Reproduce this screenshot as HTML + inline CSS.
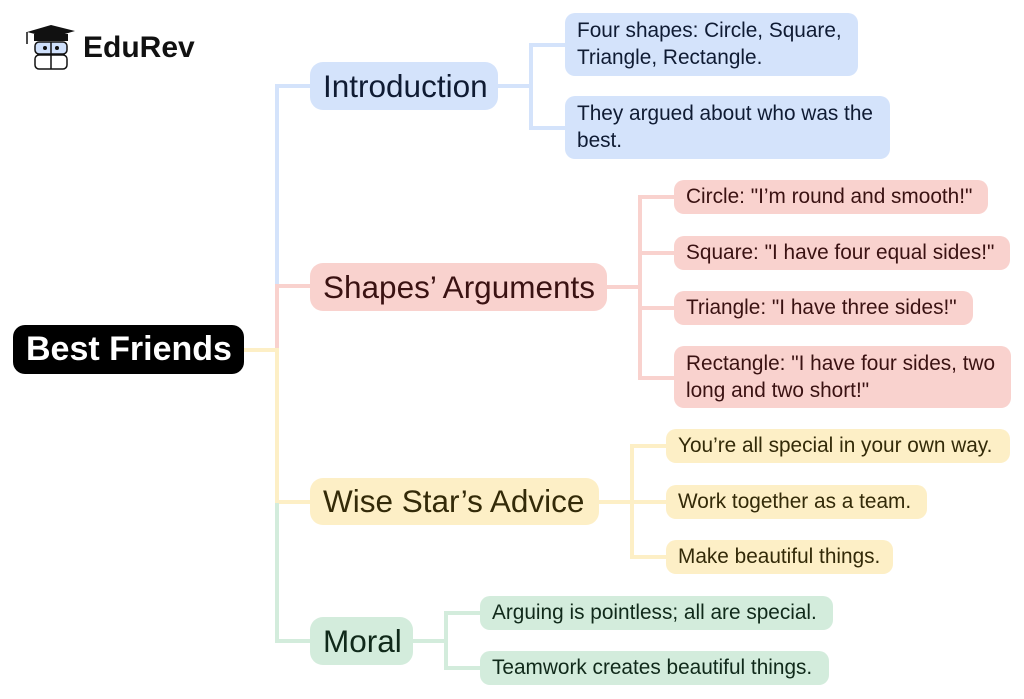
<!DOCTYPE html>
<html><head><meta charset="utf-8"><style>
body{margin:0;width:1024px;height:699px;background:#fff;position:relative;overflow:hidden;font-family:"Liberation Sans",Arial,sans-serif}
.b{position:absolute;box-sizing:border-box;border-radius:10px;font-size:20.8px;line-height:27px;padding:4px 12px;white-space:nowrap}
.m{position:absolute;box-sizing:border-box;border-radius:13px;font-size:31.5px;padding:0 13px;display:flex;align-items:center;white-space:nowrap}
.l{position:absolute}
.bl{background:#d4e3fb;color:#0f1b33}.pk{background:#f9d2ce;color:#3a1212}.ye{background:#fdefc6;color:#332a08}.gr{background:#d3ecdc;color:#10291a}
.lb{background:#d4e3fb}.lp{background:#f9d2ce}.ly{background:#fdefc6}.lg{background:#d3ecdc}
</style></head><body>
<svg style="position:absolute;left:24px;top:24px" width="54" height="48" viewBox="0 0 54 48">
<polygon points="3,8 27,1 51,7 27,14" fill="#111"/>
<rect x="10" y="10" width="34" height="7" fill="#111"/>
<line x1="3" y1="8" x2="3" y2="20" stroke="#111" stroke-width="1.5"/>
<rect x="11" y="18" width="32" height="12" rx="4" fill="#cfe0fb" stroke="#111" stroke-width="1.5"/>
<rect x="11" y="31" width="32" height="14" rx="4" fill="#fff" stroke="#111" stroke-width="1.5"/>
<line x1="27" y1="18" x2="27" y2="45" stroke="#111" stroke-width="1.5"/>
<circle cx="21" cy="24" r="2" fill="#111"/><circle cx="33" cy="24" r="2" fill="#111"/>
</svg>
<div style="position:absolute;left:83px;top:31px;font-size:30px;font-weight:bold;color:#111">EduRev</div>

<div class="l lb" style="left:275px;top:84px;width:4px;height:202px"></div>
<div class="l lb" style="left:275px;top:84px;width:36px;height:4px"></div>
<div class="l lp" style="left:275px;top:284px;width:4px;height:66px"></div>
<div class="l lp" style="left:275px;top:284px;width:36px;height:4px"></div>
<div class="l ly" style="left:275px;top:348px;width:4px;height:156px"></div>
<div class="l ly" style="left:244px;top:348px;width:34px;height:4px"></div>
<div class="l ly" style="left:275px;top:500px;width:36px;height:4px"></div>
<div class="l lg" style="left:275px;top:503px;width:4px;height:140px"></div>
<div class="l lg" style="left:275px;top:639px;width:36px;height:4px"></div>

<div class="l lb" style="left:498px;top:84px;width:34px;height:4px"></div>
<div class="l lb" style="left:529px;top:43px;width:4px;height:87px"></div>
<div class="l lb" style="left:529px;top:43px;width:37px;height:4px"></div>
<div class="l lb" style="left:529px;top:126px;width:37px;height:4px"></div>

<div class="l lp" style="left:607px;top:285px;width:34px;height:4px"></div>
<div class="l lp" style="left:638px;top:195px;width:4px;height:185px"></div>
<div class="l lp" style="left:638px;top:195px;width:37px;height:4px"></div>
<div class="l lp" style="left:638px;top:251px;width:37px;height:4px"></div>
<div class="l lp" style="left:638px;top:306px;width:37px;height:4px"></div>
<div class="l lp" style="left:638px;top:376px;width:37px;height:4px"></div>

<div class="l ly" style="left:599px;top:500px;width:34px;height:4px"></div>
<div class="l ly" style="left:630px;top:444px;width:4px;height:115px"></div>
<div class="l ly" style="left:630px;top:444px;width:37px;height:4px"></div>
<div class="l ly" style="left:630px;top:500px;width:37px;height:4px"></div>
<div class="l ly" style="left:630px;top:555px;width:37px;height:4px"></div>

<div class="l lg" style="left:413px;top:639px;width:34px;height:4px"></div>
<div class="l lg" style="left:444px;top:611px;width:4px;height:58px"></div>
<div class="l lg" style="left:444px;top:611px;width:37px;height:4px"></div>
<div class="l lg" style="left:444px;top:666px;width:37px;height:4px"></div>

<div class="m" style="left:13px;top:325px;width:231px;height:49px;background:#000;color:#fff;font-weight:bold;font-size:34px;border-radius:12px">Best Friends</div>

<div class="m bl" style="left:310px;top:62px;width:188px;height:48px">Introduction</div>
<div class="m pk" style="left:310px;top:263px;width:297px;height:48px">Shapes’ Arguments</div>
<div class="m ye" style="left:310px;top:478px;width:289px;height:47px">Wise Star’s Advice</div>
<div class="m gr" style="left:310px;top:617px;width:103px;height:48px">Moral</div>

<div class="b bl" style="left:565px;top:13px;width:293px;height:63px">Four shapes: Circle, Square,<br>Triangle, Rectangle.</div>
<div class="b bl" style="left:565px;top:96px;width:325px;height:63px">They argued about who was the<br>best.</div>

<div class="b pk" style="left:674px;top:180px;width:314px;height:34px;padding-top:3px">Circle: "I’m round and smooth!"</div>
<div class="b pk" style="left:674px;top:236px;width:336px;height:34px;padding-top:3px">Square: "I have four equal sides!"</div>
<div class="b pk" style="left:674px;top:291px;width:299px;height:34px;padding-top:3px">Triangle: "I have three sides!"</div>
<div class="b pk" style="left:674px;top:346px;width:337px;height:62px">Rectangle: "I have four sides, two<br>long and two short!"</div>

<div class="b ye" style="left:666px;top:429px;width:344px;height:34px;padding-top:3px">You’re all special in your own way.</div>
<div class="b ye" style="left:666px;top:485px;width:261px;height:34px;padding-top:3px">Work together as a team.</div>
<div class="b ye" style="left:666px;top:540px;width:227px;height:34px;padding-top:3px">Make beautiful things.</div>

<div class="b gr" style="left:480px;top:596px;width:353px;height:34px;padding-top:3px">Arguing is pointless; all are special.</div>
<div class="b gr" style="left:480px;top:651px;width:349px;height:34px;padding-top:3px">Teamwork creates beautiful things.</div>
</body></html>
